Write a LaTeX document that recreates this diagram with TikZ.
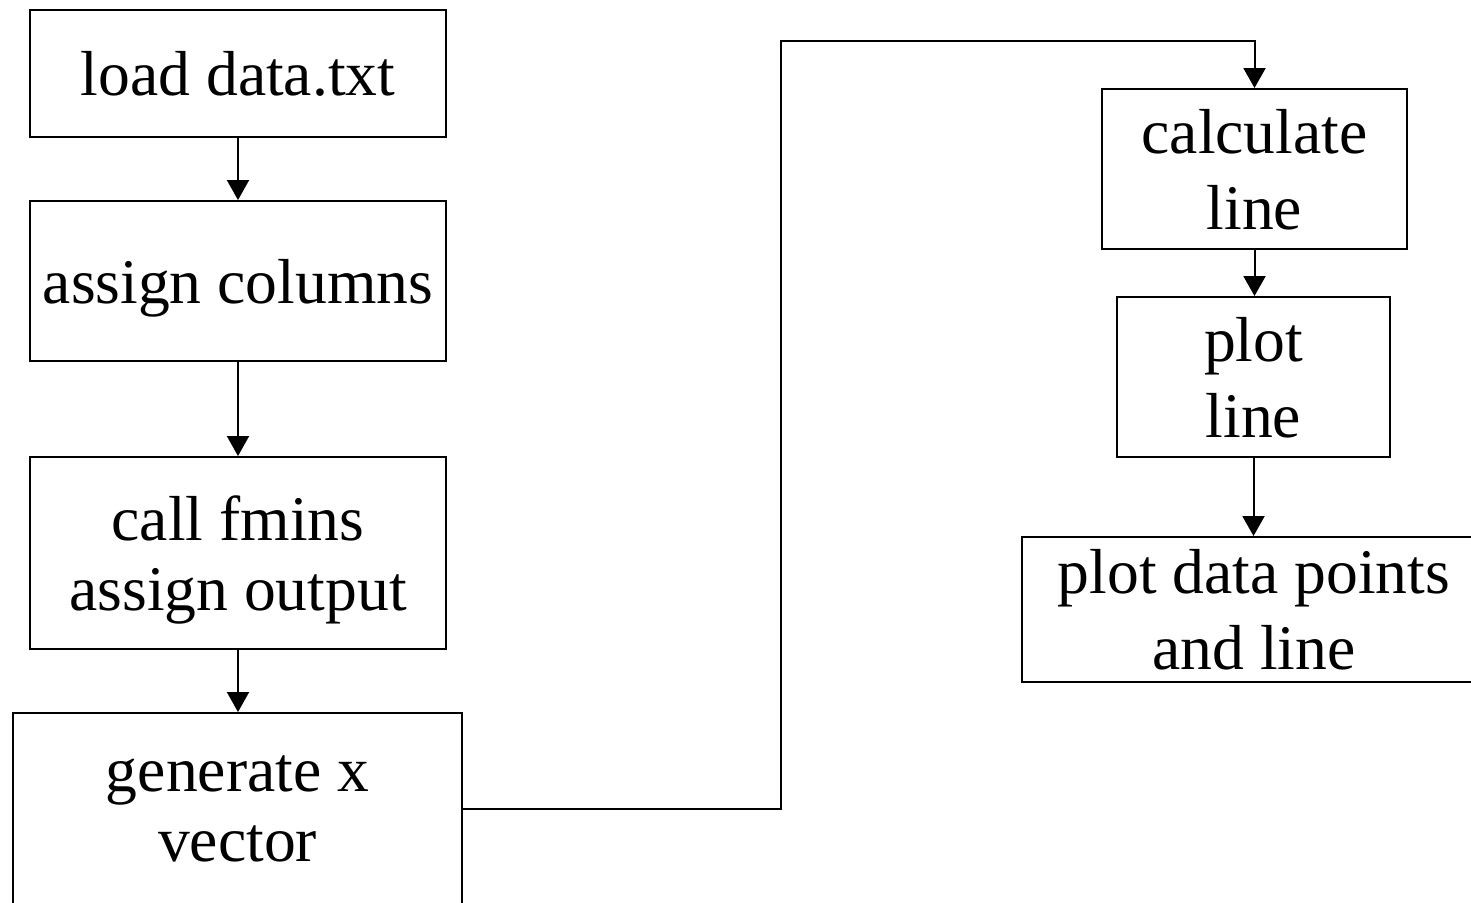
\documentclass[tikz,border=0pt]{standalone}
\usepackage{fontspec}
\setmainfont{Liberation Serif}
\usetikzlibrary{arrows.meta}

\begin{document}
\begin{tikzpicture}[x=0.5pt,y=-0.5pt,
    stage/.style={draw,line width=1pt,align=center,inner sep=2pt,
                  text depth=0pt,font=\fontsize{31.8}{35}\selectfont},
    loose/.style={font=\fontsize{31.8}{38}\selectfont},
    flow/.style={-{Triangle[length=10pt,width=11pt]},line width=1pt}]

    \useasboundingbox (0,0) rectangle (1471,902);

    % left column
    \node[stage,minimum width=208pt,minimum height=63.5pt] (load) at (238,73.5) {load data.txt};
    \node[stage,minimum width=208pt,minimum height=80pt] (cols) at (238,281) {assign columns};
    \node[stage,minimum width=208pt,minimum height=96pt] (fmins) at (238,553) {call fmins\\assign output};
    \node[stage,minimum width=224.5pt,minimum height=96pt] (genx) at (237.5,809) {generate x\\vector};

    % right column
    \node[stage,loose,minimum width=152.5pt,minimum height=80pt] (calc) at (1254.5,169) {calculate\\line};
    \node[stage,loose,minimum width=136.5pt,minimum height=80pt] (plotl) at (1253.5,377) {plot\\line};
    \node[stage,loose,minimum width=232pt,minimum height=72.5pt] (plotall) at (1254,609.5) {plot data points\\and line};

    \draw[flow] (load) -- (load |- cols.north);
    \draw[flow] (cols) -- (cols |- fmins.north);
    \draw[flow] (fmins) -- (fmins |- genx.north);

    % jump over to the right column
    \coordinate (turn) at (781,41);
    \draw[flow] (genx.east) -| (turn) -| (calc.north);

    \draw[flow] (calc) -- (calc |- plotl.north);
    \draw[flow] (plotl) -- (plotl |- plotall.north);
\end{tikzpicture}
\end{document}
